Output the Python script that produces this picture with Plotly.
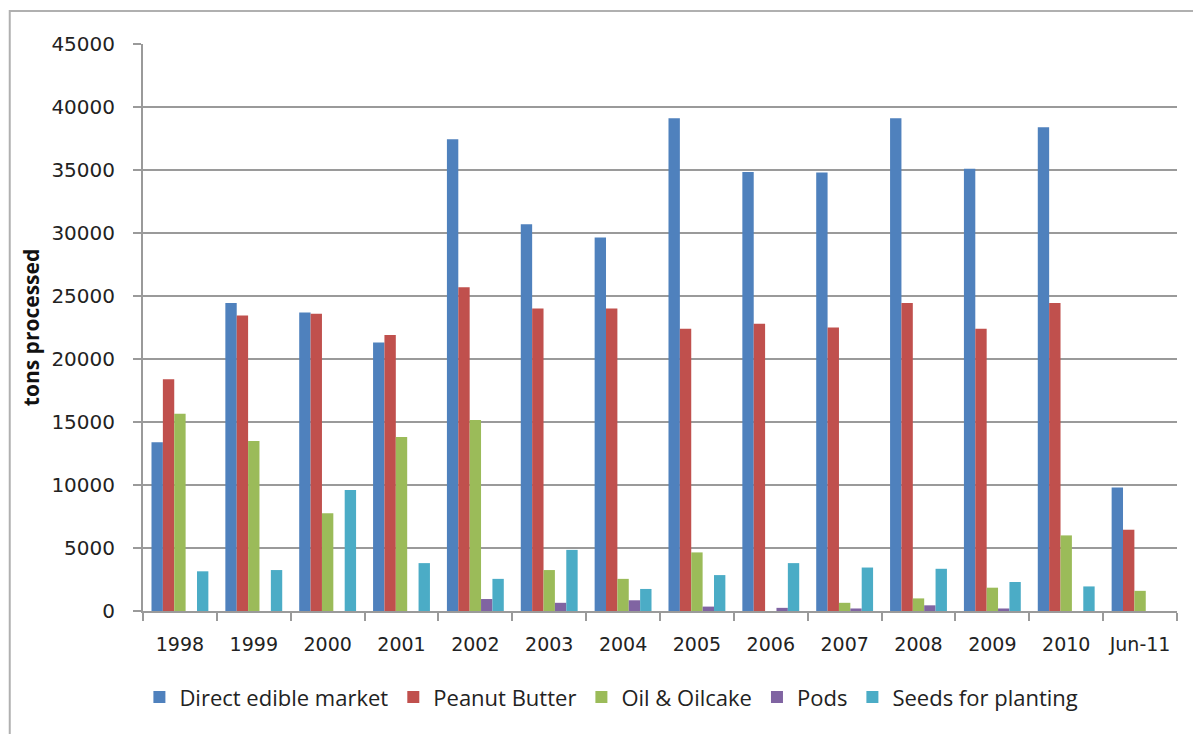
import plotly.graph_objects as go

categories = ["1998", "1999", "2000", "2001", "2002", "2003", "2004", "2005",
              "2006", "2007", "2008", "2009", "2010", "Jun-11"]

direct_edible = [13400, 24450, 23700, 21300, 37450, 30700, 29650, 39100,
                 34850, 34800, 39100, 35100, 38400, 9800]
peanut_butter = [18400, 23450, 23600, 21900, 25700, 24000, 24000, 22400,
                 22800, 22500, 24450, 22400, 24450, 6450]
oil_oilcake = [15650, 13500, 7750, 13800, 15150, 3250, 2550, 4650,
               0, 650, 1000, 1850, 6000, 1600]
pods = [0, 0, 0, 0, 950, 650, 850, 350, 250, 200, 450, 200, 0, 0]
seeds_planting = [3150, 3250, 9600, 3800, 2550, 4850, 1750, 2850,
                  3800, 3450, 3350, 2300, 1950, 0]

series = [
    ("Direct edible market", direct_edible, "#4F81BD"),
    ("Peanut Butter", peanut_butter, "#C0504D"),
    ("Oil & Oilcake", oil_oilcake, "#9BBB59"),
    ("Pods", pods, "#8064A2"),
    ("Seeds for planting", seeds_planting, "#4BACC6"),
]

y_ticks = list(range(0, 45001, 5000))

fig = go.Figure()
for name, vals, color in series:
    fig.add_trace(go.Bar(x=categories, y=vals, name=name,
                         marker=dict(color=color, line=dict(width=0))))

grid_col = "#9a9a9a"
fig.update_layout(
    width=1193, height=734,
    margin=dict(l=143, r=16, t=44, b=123),
    paper_bgcolor="white", plot_bgcolor="white",
    barmode="group", bargap=0.23, bargroupgap=0,
    font=dict(family="DejaVu Sans", size=20, color="#222222"),
    showlegend=True,
    legend=dict(orientation="h", x=0.453, xanchor="center", y=-0.115, yanchor="top",
                font=dict(family="Open Sans", size=22, color="#222222"),
                itemwidth=30, traceorder="normal"),
    xaxis=dict(type="category", tickson="boundaries", ticks="outside", ticklen=8,
               tickcolor=grid_col, tickwidth=2, showline=True, linecolor=grid_col,
               linewidth=2, showgrid=False, ticklabelstandoff=15,
               tickfont=dict(family="DejaVu Sans", size=19, color="#222222")),
    yaxis=dict(range=[0, 45000], tickvals=y_ticks, ticktext=[str(v) for v in y_ticks],
               ticks="outside", ticklen=8, tickcolor=grid_col, tickwidth=2,
               showline=True, linecolor=grid_col, linewidth=2,
               showgrid=True, gridcolor=grid_col, gridwidth=2, zeroline=False,
               ticklabelstandoff=14,
               tickfont=dict(family="DejaVu Sans", size=20, color="#222222"),
               title=dict(text="<b>tons processed</b>", standoff=6,
                          font=dict(family="Open Sans", size=21, color="#111111"))),
)

# outer chart-area border (left & top edges visible in the picture)
fig.add_shape(type="rect", xref="paper", yref="paper",
              x0=(10 - 143) / 1032, x1=1.2, y0=-0.4, y1=1.0 + 33 / 567,
              line=dict(color="#b0b0b0", width=2), fillcolor="rgba(0,0,0,0)",
              layer="below")

fig.write_html("out.html")
